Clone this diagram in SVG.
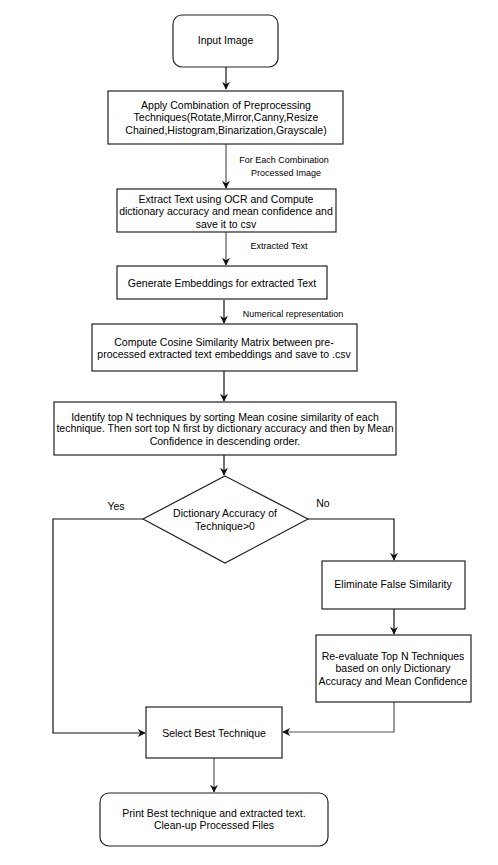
<svg xmlns="http://www.w3.org/2000/svg" width="498" height="865" viewBox="0 0 498 865">
<style>
.box{fill:#fff;stroke:#222;stroke-width:1.2}
.t{font-family:"Liberation Sans",Arial,sans-serif;font-size:10.5px;fill:#000;text-anchor:middle}
.l{font-family:"Liberation Sans",Arial,sans-serif;font-size:9px;fill:#000;text-anchor:middle}
.c{fill:none;stroke:#111;stroke-width:1.2}
.g{fill:none;stroke:#555;stroke-width:1.2}
</style>
<defs>
<marker id="ah" viewBox="0 0 10 10" refX="9" refY="5" markerWidth="8" markerHeight="8" orient="auto" markerUnits="userSpaceOnUse">
<path d="M0,0 L10,5 L0,10 L3,5 Z" fill="#111"/>
</marker>
</defs>
<rect width="498" height="865" fill="#fff"/>
<g id="connectors">
<path class="c" d="M226,67 V89" marker-end="url(#ah)"/>
<path class="g" d="M226,144 V188" marker-end="url(#ah)"/>
<path class="g" d="M226,232 V265" marker-end="url(#ah)"/>
<path class="c" d="M224,300 V323" marker-end="url(#ah)"/>
<path class="c" d="M224,371 V401" marker-end="url(#ah)"/>
<path class="c" d="M224,455 V475" marker-end="url(#ah)"/>
<path class="c" d="M308,519 H394 V560" marker-end="url(#ah)"/>
<path class="c" d="M394,609 V634" marker-end="url(#ah)"/>
<path class="g" d="M394,702 V732 H283" marker-end="url(#ah)"/>
<path class="c" d="M143,519 H53 V733 H145" marker-end="url(#ah)"/>
<path class="g" d="M214,758 V792" marker-end="url(#ah)"/>
<text class="l" x="284" y="163">For Each Combination</text>
<text class="l" x="286" y="176">Processed Image</text>
<text class="l" x="279" y="249">Extracted Text</text>
<text class="l" x="293" y="317">Numerical representation</text>
<text class="t" x="116" y="510">Yes</text>
<text class="t" x="323" y="507">No</text>
</g>
<g id="input">
<rect class="box" x="173" y="15" width="105" height="52" rx="9"/>
<text class="t" x="225.5" y="44">Input Image</text>
</g>
<g id="apply">
<rect class="box" x="108" y="91" width="235" height="53"/>
<text class="t" x="226" y="109">Apply Combination of Preprocessing</text>
<text class="t" x="226" y="121">Techniques(Rotate,Mirror,Canny,Resize</text>
<text class="t" x="226" y="134">Chained,Histogram,Binarization,Grayscale)</text>
</g>
<g id="extract">
<rect class="box" x="117" y="189" width="219" height="43"/>
<text class="t" x="226" y="203">Extract Text using OCR and Compute</text>
<text class="t" x="226" y="215">dictionary accuracy and mean confidence and</text>
<text class="t" x="226" y="228">save it to csv</text>
</g>
<g id="embed">
<rect class="box" x="117" y="266" width="210" height="33"/>
<text class="t" x="222" y="287">Generate Embeddings for extracted Text</text>
</g>
<g id="cosine">
<rect class="box" x="92" y="324" width="265" height="47"/>
<text class="t" x="224" y="346">Compute Cosine Similarity Matrix between pre-</text>
<text class="t" x="224" y="358">processed extracted text embeddings and save to .csv</text>
</g>
<g id="identify">
<rect class="box" x="54" y="402" width="342" height="53"/>
<text class="t" x="225" y="421">Identify top N techniques by sorting Mean cosine similarity of each</text>
<text class="t" x="225" y="432">technique. Then sort top N first by dictionary accuracy and then by Mean</text>
<text class="t" x="225" y="445">Confidence in descending order.</text>
</g>
<g id="decision">
<polygon class="box" points="225,476 308,519 225,563 143,519"/>
<text class="t" x="225" y="517">Dictionary Accuracy of</text>
<text class="t" x="225" y="530">Technique&gt;0</text>
</g>
<g id="eliminate">
<rect class="box" x="322" y="561" width="143" height="48"/>
<text class="t" x="393" y="588">Eliminate False Similarity</text>
</g>
<g id="reevaluate">
<rect class="box" x="316" y="635" width="155" height="67"/>
<text class="t" x="393" y="660">Re-evaluate Top N Techniques</text>
<text class="t" x="393" y="672">based on only Dictionary</text>
<text class="t" x="393" y="685">Accuracy and Mean Confidence</text>
</g>
<g id="select">
<rect class="box" x="146" y="707" width="136" height="51"/>
<text class="t" x="214" y="737">Select Best Technique</text>
</g>
<g id="print">
<rect class="box" x="100" y="793" width="228" height="53" rx="9"/>
<text class="t" x="214" y="817">Print Best technique and extracted text.</text>
<text class="t" x="214" y="829">Clean-up Processed Files</text>
</g>
</svg>
